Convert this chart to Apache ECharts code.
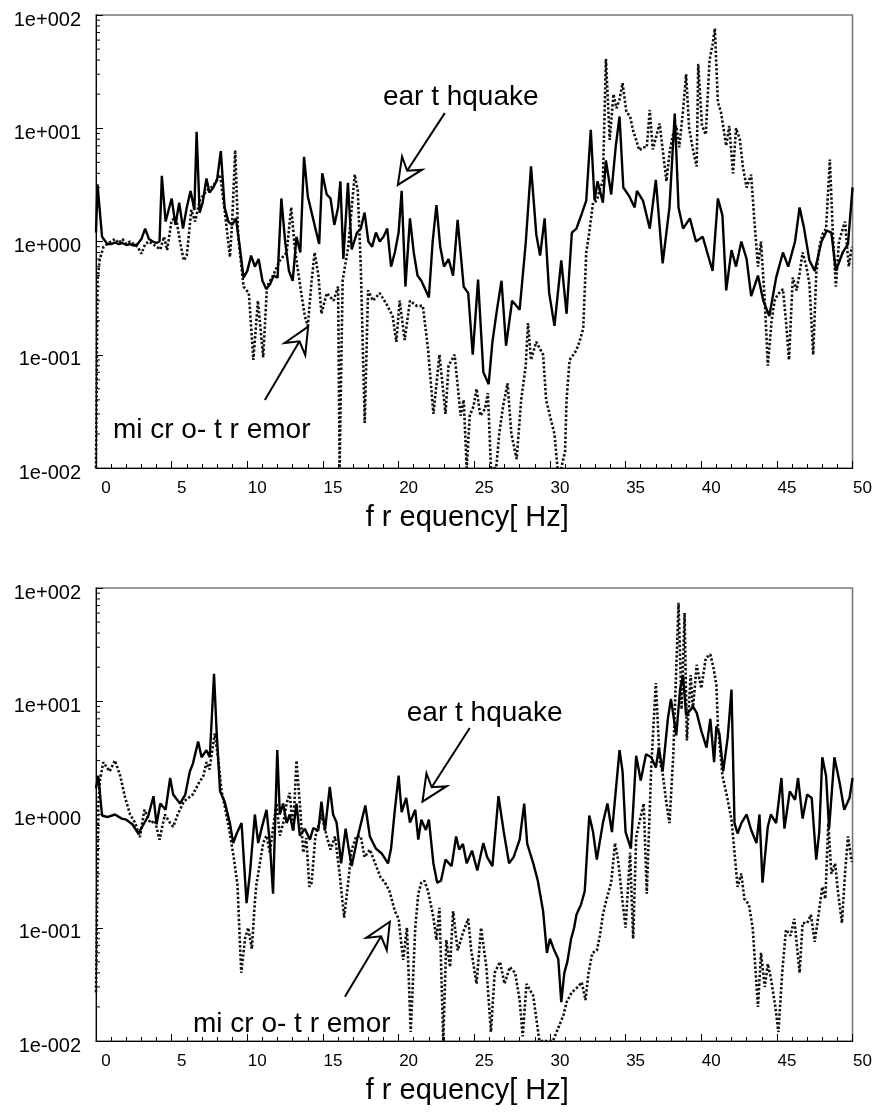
<!DOCTYPE html>
<html><head><meta charset="utf-8">
<script src="https://cdn.jsdelivr.net/npm/echarts@6/dist/echarts.min.js"></script>
<style>html,body{margin:0;padding:0;background:#fff}#c{width:875px;height:1112px}</style>
</head><body><div id="c"></div>
<script>
// ---- tick labels ----
const xTickValues = [0,5,10,15,20,25,30,35,40,45,50];
const yTickValues = [0.01,0.1,1,10,100];
const yTickLabels = ['1e-002','1e-001','1e+000','1e+001','1e+002'];
const yMinorTicks = [0.02,0.03,0.04,0.05,0.06,0.07,0.08,0.09,0.2,0.3,0.4,0.5,0.6,0.7,0.8,0.9,2,3,4,5,6,7,8,9,20,30,40,50,60,70,80,90];
const xAxisTitle = 'f r equency[ Hz]';
const labelEarthquake = 'ear t hquake';
const labelMicrotremor = 'mi cr o- t r emor';

// ---- series values: [frequency Hz, amplitude] ----
const topEarthquake = [[0,1.2],[0.1,3.2],[0.4,1.1],[0.75,0.95],[1,0.95],[1.25,0.98],[1.5,0.95],[1.75,0.97],[2,0.93],[2.25,0.95],[2.5,0.92],[2.75,0.95],[3,1.05],[3.25,1.3],[3.5,1.05],[3.75,1.0],[4,0.97],[4.2,1.0],[4.35,3.8],[4.6,1.5],[5,2.4],[5.25,1.4],[5.5,2.2],[5.75,1.3],[6,2.0],[6.25,2.8],[6.5,1.9],[6.65,9.3],[6.85,1.8],[7.05,2.2],[7.3,3.6],[7.5,2.7],[7.75,3.0],[8,3.5],[8.25,6.3],[8.5,2.0],[8.75,1.5],[9,1.4],[9.25,1.6],[9.5,0.9],[9.75,0.48],[10,0.55],[10.25,0.75],[10.5,0.6],[10.75,0.7],[11,0.45],[11.25,0.38],[11.5,0.42],[11.75,0.5],[12,0.48],[12.25,2.4],[12.5,1.0],[12.75,0.55],[13,0.45],[13.25,1.1],[13.5,0.8],[13.75,5.6],[14,2.5],[14.25,1.8],[14.5,1.3],[14.75,0.95],[14.95,4.0],[15.25,2.6],[15.5,2.4],[15.75,1.4],[16,2.0],[16.15,3.4],[16.35,0.7],[16.65,3.3],[16.9,0.85],[17.25,1.2],[17.5,1.3],[17.75,1.8],[18,1.0],[18.25,0.9],[18.5,1.2],[18.75,1.0],[19,1.1],[19.25,1.3],[19.5,0.6],[19.75,0.8],[20,1.2],[20.2,2.8],[20.45,0.4],[20.75,1.6],[21,0.8],[21.25,0.5],[21.5,0.45],[21.75,0.38],[22,0.32],[22.25,1.0],[22.5,2.1],[22.75,0.9],[23,0.6],[23.3,0.7],[23.6,0.5],[23.9,1.55],[24.3,0.4],[24.6,0.35],[24.9,0.1],[25.25,0.46],[25.6,0.07],[25.95,0.055],[26.2,0.13],[26.5,0.25],[26.8,0.45],[27.1,0.12],[27.5,0.3],[28,0.25],[28.4,0.97],[28.75,4.6],[29.1,1.15],[29.35,0.75],[29.65,1.6],[29.95,0.35],[30.3,0.18],[30.75,0.68],[31.1,0.23],[31.45,1.2],[31.75,1.3],[32.1,1.75],[32.4,2.3],[32.7,9.7],[32.95,2.3],[33.15,3.4],[33.5,2.2],[33.7,5.2],[34.05,2.6],[34.35,6.9],[34.6,12.7],[34.85,3.0],[35.25,2.5],[35.6,2.0],[35.75,2.8],[36.15,2.3],[36.6,1.3],[37,3.5],[37.45,0.64],[37.9,2.0],[38.25,13.5],[38.5,2.0],[38.8,1.3],[39.25,1.6],[39.65,1.0],[40.1,1.1],[40.55,0.68],[40.75,0.55],[41.1,2.4],[41.4,1.7],[41.65,0.37],[42,0.84],[42.3,0.6],[42.65,1.0],[43,0.7],[43.3,0.33],[43.75,0.5],[44.1,0.3],[44.5,0.22],[44.95,0.48],[45.4,0.8],[45.75,0.6],[46.2,1.0],[46.5,2.0],[46.8,1.3],[47.15,0.68],[47.5,0.55],[47.95,1.0],[48.3,1.25],[48.6,1.2],[48.9,0.55],[49.35,0.8],[49.7,0.95],[50,3.0]];

const topMicrotremor = [[0,0.01],[0.1,0.45],[0.25,0.7],[0.5,0.9],[0.75,0.95],[1,1.0],[1.25,1.05],[1.5,0.97],[1.75,1.05],[2,0.95],[2.25,1.0],[2.5,0.95],[2.75,0.9],[3,0.78],[3.25,0.95],[3.5,1.0],[3.75,0.95],[4,0.9],[4.25,0.85],[4.5,1.1],[4.7,0.84],[5,1.55],[5.3,1.6],[5.55,1.0],[5.8,0.68],[6,0.75],[6.3,1.9],[6.55,1.5],[6.85,2.3],[7.3,2.8],[7.75,3.1],[8.2,3.9],[8.5,1.9],[8.85,0.73],[9,1.5],[9.2,6.4],[9.4,1.1],[9.75,0.4],[10.1,0.35],[10.4,0.09],[10.7,0.3],[11.05,0.095],[11.3,0.4],[11.7,0.5],[12.15,0.68],[12.6,0.8],[12.9,2.0],[13.15,0.85],[13.5,0.4],[13.8,0.22],[14,0.18],[14.25,0.45],[14.45,0.8],[14.7,0.5],[14.9,0.23],[15.25,0.35],[15.7,0.3],[16,0.4],[16.1,0.01],[16.3,0.45],[16.67,0.9],[17.1,3.9],[17.3,2.8],[17.5,0.6],[17.76,0.025],[17.98,0.37],[18.3,0.3],[18.75,0.35],[19.2,0.28],[19.6,0.22],[19.85,0.13],[20.07,0.3],[20.4,0.135],[20.75,0.3],[21.2,0.27],[21.6,0.27],[21.95,0.11],[22.3,0.03],[22.7,0.1],[23.1,0.03],[23.3,0.08],[23.7,0.1],[24.1,0.029],[24.3,0.04],[24.5,0.01],[24.7,0.029],[24.95,0.035],[25.15,0.05],[25.4,0.029],[25.7,0.033],[25.9,0.046],[26.1,0.01],[26.45,0.01],[26.65,0.02],[26.9,0.035],[27.2,0.056],[27.45,0.02],[27.8,0.012],[28.1,0.04],[28.4,0.08],[28.55,0.19],[28.75,0.09],[29.1,0.13],[29.55,0.1],[29.75,0.04],[30,0.029],[30.3,0.02],[30.5,0.01],[30.75,0.01],[31,0.014],[31.1,0.04],[31.3,0.09],[31.55,0.1],[31.75,0.11],[31.95,0.13],[32.2,0.17],[32.4,0.8],[32.6,1.2],[32.85,2.2],[33.1,2.3],[33.3,2.9],[33.5,3.4],[33.7,41],[33.95,7.9],[34.2,20],[34.4,15],[34.6,18],[34.8,25],[35.05,14],[35.3,12.7],[35.5,9.5],[35.7,7.9],[35.9,6.4],[36.15,6.8],[36.4,6.8],[36.6,14.5],[36.8,6.5],[37.25,11],[37.45,6.5],[37.7,3.4],[37.9,6.0],[38.1,8.5],[38.35,10.5],[38.55,6.8],[38.8,14.5],[39,30],[39.2,10],[39.45,6.5],[39.7,4.6],[39.8,37],[40.05,10.5],[40.3,8.8],[40.55,40],[40.75,55],[40.9,76],[41.1,17],[41.3,14],[41.65,7.0],[41.85,10.5],[42.1,4.0],[42.3,10],[42.55,8.0],[42.75,4.6],[43,3.0],[43.3,3.9],[43.5,1.6],[43.75,0.6],[43.95,1.0],[44.2,0.3],[44.4,0.08],[44.65,0.2],[44.85,0.3],[45.05,0.34],[45.4,0.38],[45.6,0.2],[45.8,0.09],[46.05,0.48],[46.3,0.37],[46.5,0.52],[46.7,0.8],[46.95,0.6],[47.15,0.42],[47.4,0.1],[47.6,0.52],[47.8,0.88],[48,1.15],[48.25,1.3],[48.5,5.3],[48.7,1.15],[48.9,0.4],[49.1,1.0],[49.5,1.5],[49.75,0.6],[49.95,0.9]];

const bottomEarthquake = [[0,1.7],[0.15,2.2],[0.4,0.98],[0.75,0.95],[1.25,1.0],[1.7,0.92],[2,0.9],[2.4,0.82],[2.8,0.68],[3.1,0.8],[3.45,0.97],[3.8,1.45],[4,0.82],[4.25,1.25],[4.6,1.1],[4.9,2.1],[5.1,1.5],[5.55,1.25],[5.9,1.5],[6.2,2.4],[6.4,2.8],[6.75,4.4],[6.98,3.2],[7.3,3.7],[7.52,3.2],[7.8,17.5],[7.97,5.5],[8.2,1.6],[8.5,1.3],[8.85,0.84],[9.07,0.56],[9.3,0.68],[9.62,0.84],[9.95,0.165],[10.17,0.3],[10.5,1.0],[10.72,0.56],[10.94,0.75],[11.27,1.1],[11.49,0.56],[11.7,0.2],[11.98,3.7],[12.15,1.0],[12.37,1.25],[12.6,0.84],[12.8,1.0],[13.03,0.72],[13.25,1.25],[13.47,0.65],[13.8,0.75],[14.14,0.6],[14.36,0.76],[14.69,0.72],[14.9,1.3],[15.13,0.72],[15.45,1.75],[15.67,1.0],[15.9,0.85],[16.2,0.37],[16.5,0.75],[16.7,0.5],[16.9,0.35],[17.3,0.64],[17.8,1.2],[18.1,0.64],[18.5,0.5],[18.9,0.45],[19.3,0.37],[19.5,0.5],[19.75,1.1],[20,2.2],[20.2,1.05],[20.5,1.4],[20.75,0.85],[21.1,1.1],[21.3,0.6],[21.5,0.9],[21.8,0.73],[22,0.9],[22.3,0.37],[22.55,0.25],[22.8,0.26],[23.1,0.4],[23.5,0.35],[23.8,0.64],[24,0.49],[24.25,0.55],[24.5,0.37],[24.85,0.48],[25.2,0.32],[25.6,0.56],[25.85,0.42],[26.2,0.35],[26.6,1.45],[26.95,0.7],[27.3,0.37],[27.6,0.42],[28,0.6],[28.3,1.25],[28.5,0.55],[28.9,0.37],[29.2,0.26],[29.55,0.14],[29.8,0.06],[30,0.08],[30.25,0.065],[30.55,0.053],[30.75,0.022],[30.95,0.04],[31.15,0.05],[31.4,0.08],[31.6,0.1],[31.75,0.13],[32.05,0.16],[32.3,0.21],[32.6,0.98],[32.85,0.7],[33.1,0.4],[33.5,0.84],[33.8,1.25],[34.1,0.7],[34.6,3.7],[34.8,2.4],[35,0.7],[35.35,0.5],[35.7,3.3],[36,2.0],[36.35,3.4],[36.7,3.2],[37,2.6],[37.2,3.9],[37.45,2.4],[37.8,7.1],[38,10.5],[38.35,5.0],[38.6,12.7],[38.8,17],[39,7.5],[39.45,9.0],[39.7,7.9],[40,5.5],[40.35,3.9],[40.6,7.0],[40.85,2.9],[41,6.0],[41.2,5.2],[41.45,2.4],[41.75,4.8],[42,12.7],[42.2,0.84],[42.4,0.68],[42.65,0.84],[43,1.0],[43.3,0.73],[43.65,0.56],[43.85,1.0],[44.05,0.25],[44.4,0.78],[44.6,1.0],[44.95,0.84],[45.3,2.1],[45.5,0.75],[45.85,1.6],[46.2,1.35],[46.4,2.1],[46.7,0.92],[47,1.5],[47.3,1.4],[47.6,0.4],[47.8,0.7],[48,3.2],[48.25,2.2],[48.45,0.75],[48.8,3.2],[49.15,1.9],[49.45,1.1],[49.8,1.4],[50,2.1]];

const bottomMicrotremor = [[0,0.027],[0.15,1.2],[0.26,2.0],[0.48,2.9],[0.9,2.4],[1.25,3.0],[1.6,2.2],[1.9,1.45],[2.25,1.0],[2.6,0.84],[2.9,0.63],[3.2,1.1],[3.6,0.84],[3.9,0.88],[4.2,0.6],[4.55,1.0],[4.9,0.84],[5.1,0.78],[5.4,1.0],[5.8,1.3],[6.1,1.4],[6.4,1.5],[6.8,1.9],[7.1,2.2],[7.3,2.9],[7.5,2.5],[7.85,5.2],[8.1,2.9],[8.3,1.6],[8.5,1.2],[8.85,0.68],[9.1,0.42],[9.35,0.24],[9.5,0.08],[9.6,0.04],[9.85,0.08],[10.06,0.1],[10.3,0.065],[10.5,0.17],[10.6,0.24],[10.83,0.37],[11.05,0.56],[11.27,0.65],[11.49,0.46],[11.7,0.76],[11.93,1.25],[12.15,0.65],[12.37,0.84],[12.6,1.25],[12.8,1.55],[13.03,0.72],[13.25,3.0],[13.47,1.25],[13.7,0.46],[13.9,0.62],[14.1,0.23],[14.25,0.25],[14.5,0.64],[14.9,1.0],[15.25,0.64],[15.5,0.49],[15.8,0.64],[16.1,0.3],[16.4,0.123],[16.6,0.21],[16.9,0.49],[17.2,0.64],[17.5,0.64],[17.75,0.42],[18.1,0.49],[18.45,0.37],[18.8,0.28],[19.1,0.25],[19.4,0.21],[19.75,0.14],[20,0.12],[20.1,0.09],[20.3,0.052],[20.55,0.1],[20.8,0.012],[21.1,0.1],[21.3,0.2],[21.5,0.25],[21.7,0.26],[21.95,0.21],[22.3,0.123],[22.5,0.078],[22.7,0.15],[22.95,0.01],[23.15,0.078],[23.4,0.045],[23.6,0.14],[23.9,0.063],[24.25,0.09],[24.6,0.12],[24.8,0.063],[25.15,0.032],[25.45,0.1],[25.8,0.045],[26.1,0.012],[26.35,0.04],[26.7,0.05],[27,0.032],[27.35,0.045],[27.7,0.04],[28,0.023],[28.2,0.011],[28.45,0.032],[28.9,0.025],[29.3,0.01],[29.75,0.01],[30.2,0.01],[30.9,0.017],[31.1,0.022],[31.45,0.027],[31.85,0.03],[32.1,0.033],[32.35,0.023],[32.55,0.04],[32.8,0.06],[33.1,0.063],[33.3,0.085],[33.5,0.13],[33.7,0.17],[34.05,0.25],[34.3,0.56],[34.5,0.4],[34.8,0.17],[35,0.1],[35.3,0.46],[35.5,0.08],[35.7,0.63],[35.9,0.84],[36.2,1.25],[36.4,0.2],[36.7,2.7],[37,14.5],[37.25,3.0],[37.45,2.3],[37.7,1.25],[37.9,0.84],[38.15,3.3],[38.5,74],[38.7,8.5],[38.9,60],[39.05,4.5],[39.3,17],[39.45,8.5],[39.7,21],[40,13],[40.3,24],[40.6,26],[40.8,20],[41,14],[41.1,6.2],[41.4,2.2],[41.7,1.45],[42,0.9],[42.2,0.46],[42.4,0.23],[42.65,0.3],[42.85,0.18],[43.15,0.16],[43.4,0.1],[43.75,0.02],[43.95,0.06],[44.2,0.03],[44.4,0.048],[44.6,0.036],[44.9,0.02],[45.1,0.012],[45.35,0.04],[45.6,0.096],[45.9,0.085],[46.15,0.12],[46.5,0.04],[46.7,0.11],[47,0.11],[47.25,0.13],[47.5,0.075],[47.75,0.13],[48,0.23],[48.2,0.18],[48.4,0.84],[48.6,0.3],[48.85,0.37],[49.05,0.2],[49.3,0.11],[49.5,0.3],[49.7,0.64],[49.95,0.38]];

// annotation anchors in data space
const annotations = [
  {grid:0, text:labelEarthquake,  at:[18.96,18.9],  from:[23.05,13.6],   tip:[19.95,3.16]},
  {grid:0, text:labelMicrotremor, at:[1.12,0.0217], from:[11.16,0.0398], tip:[14.02,0.177]},
  {grid:1, text:labelEarthquake,  at:[20.54,7.87],  from:[24.70,5.81],   tip:[21.58,1.30]},
  {grid:1, text:labelMicrotremor, at:[6.41,0.0141], from:[16.45,0.0246], tip:[19.42,0.113]}
];

const FONT = '"Liberation Sans", Arial, sans-serif';
const chart = echarts.init(document.getElementById('c'), null, {renderer:'canvas'});

function xAxisCfg(gi){
  return {
    gridIndex: gi, type:'value', min:0, max:50, interval:5,
    name: xAxisTitle, nameLocation:'middle', nameGap:35,
    nameTextStyle:{fontSize:29, color:'#000', fontFamily:FONT, padding:[0,14,0,0]},
    axisLine:{show:true, onZero:false, lineStyle:{color:'#000', width:1}},
    axisTick:{show:true, inside:true, length:7, lineStyle:{color:'#000'}},
    minorTick:{show:true, splitNumber:5, length:4, lineStyle:{color:'#000'}},
    splitLine:{show:false},
    axisLabel:{fontSize:17, color:'#000', fontFamily:FONT, margin:12, padding:[0,0,0,20],
      formatter: v => { const i = xTickValues.indexOf(v); return i >= 0 ? String(xTickValues[i]) : ''; }}
  };
}
function yAxisCfg(gi){
  return {
    gridIndex: gi, type:'log', logBase:10, min:0.01, max:100, splitNumber:4,
    axisLine:{show:true, onZero:false, lineStyle:{color:'#000', width:1}},
    axisTick:{show:true, inside:true, length:7, lineStyle:{color:'#000'}},
    minorTick:{show:false},
    splitLine:{show:false},
    axisLabel:{color:'#000', margin:15,
      rich:{t:{fontSize:20, color:'#000', fontFamily:FONT, padding:[10,0,0,0]}},
      formatter: v => { for (let i=0;i<yTickValues.length;i++){ if (Math.abs(Math.log10(v)-Math.log10(yTickValues[i]))<1e-6) return '{t|' + yTickLabels[i] + '}'; } return ''; }}
  };
}
function minorTickSeries(gi){
  return {
    type:'custom', xAxisIndex:gi, yAxisIndex:gi, silent:true, z:5,
    data: yMinorTicks.map(v => [0, v]),
    renderItem: (params, api) => {
      const p = api.coord([api.value(0), api.value(1)]);
      return {type:'line', shape:{x1:p[0], y1:p[1], x2:p[0]+4, y2:p[1]}, style:{stroke:'#000', lineWidth:1}};
    }
  };
}
function lineSeries(gi, data, dotted){
  return {
    type:'line', xAxisIndex:gi, yAxisIndex:gi, data:data, showSymbol:false, symbol:'none',
    smooth:false, z: dotted ? 2 : 3,
    lineStyle: dotted ? {color:'#111', width:2.6, type:[2.4,2]} : {color:'#000', width:2.4}
  };
}

chart.setOption({
  animation:false,
  backgroundColor:'#fff',
  grid:[
    {left:96, top:15, width:757, height:453, show:true, borderColor:'#7a7a7a', borderWidth:1.6, containLabel:false},
    {left:96, top:588, width:757, height:453, show:true, borderColor:'#7a7a7a', borderWidth:1.6, containLabel:false}
  ],
  xAxis:[xAxisCfg(0), xAxisCfg(1)],
  yAxis:[yAxisCfg(0), yAxisCfg(1)],
  series:[
    lineSeries(0, topMicrotremor, true),
    lineSeries(0, topEarthquake, false),
    lineSeries(1, bottomMicrotremor, true),
    lineSeries(1, bottomEarthquake, false),
    minorTickSeries(0), minorTickSeries(1)
  ]
});

// annotations placed through the chart's own coordinate conversion
const graphics = [];
annotations.forEach(a => {
  const t = chart.convertToPixel({gridIndex:a.grid}, a.at);
  const s = chart.convertToPixel({gridIndex:a.grid}, a.from);
  const e = chart.convertToPixel({gridIndex:a.grid}, a.tip);
  const dx = s[0]-e[0], dy = s[1]-e[1], len = Math.hypot(dx,dy);
  const ux = dx/len, uy = dy/len, nx = -uy, ny = ux;
  const L = 26, W = 12, N = 17;
  const b1 = [e[0]+ux*L+nx*W, e[1]+uy*L+ny*W];
  const b2 = [e[0]+ux*L-nx*W, e[1]+uy*L-ny*W];
  const nt = [e[0]+ux*N, e[1]+uy*N];
  graphics.push({type:'text', x:t[0], y:t[1], z:10,
    style:{text:a.text, fontSize:28, fontFamily:FONT, fill:'#000', align:'left', verticalAlign:'middle'}});
  graphics.push({type:'line', z:10, shape:{x1:s[0], y1:s[1], x2:nt[0], y2:nt[1]}, style:{stroke:'#000', lineWidth:2}});
  graphics.push({type:'polygon', z:11, shape:{points:[e, b1, nt, b2]}, style:{fill:'#fff', stroke:'#000', lineWidth:2}});
});
chart.setOption({graphic: graphics});
</script></body></html>
